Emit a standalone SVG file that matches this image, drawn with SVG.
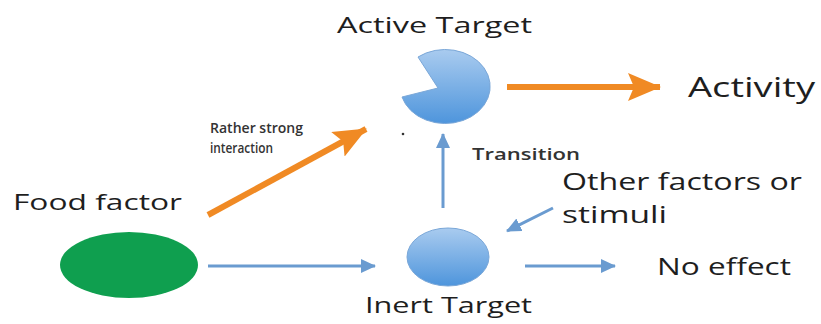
<svg xmlns="http://www.w3.org/2000/svg" width="821" height="324" viewBox="0 0 821 324">
  <style>
    .lbl { font-family: "Open Sans", "Liberation Sans", sans-serif; fill: #1e1e1e; }
    .small { font-weight: 600; fill: #333; }
    .blue { stroke: #6a9bd0; stroke-width: 3; fill: none; }
    .orange { stroke: #f08a24; stroke-width: 6; fill: none; }
  </style>
  <defs>
    <linearGradient id="targetFill" x1="0" y1="0" x2="0" y2="1">
      <stop offset="0" stop-color="#a9cbef"/>
      <stop offset="1" stop-color="#4e95dc"/>
    </linearGradient>
    <marker id="headBlue" markerUnits="userSpaceOnUse" markerWidth="16" markerHeight="14" refX="14" refY="7" orient="auto">
      <path d="M0,0 L15,7 L0,14 Z" fill="#6a9bd0"/>
    </marker>
    <marker id="headOrange" markerUnits="userSpaceOnUse" markerWidth="34" markerHeight="28" refX="32" refY="14" orient="auto">
      <path d="M0,0 L33,14 L0,28 L6,14 Z" fill="#f08a24"/>
    </marker>
  </defs>

  <rect width="821" height="324" fill="#ffffff"/>

  <!-- connectors -->
  <g id="connectors">
    <line class="orange" x1="208" y1="215" x2="366" y2="129" marker-end="url(#headOrange)"/>
    <line class="orange" x1="507" y1="87" x2="660" y2="87" marker-end="url(#headOrange)"/>
    <line class="blue" x1="208" y1="266" x2="375" y2="266" marker-end="url(#headBlue)"/>
    <line class="blue" x1="443" y1="208" x2="443" y2="134" marker-end="url(#headBlue)"/>
    <line class="blue" x1="553" y1="208" x2="507" y2="231" marker-end="url(#headBlue)"/>
    <line class="blue" x1="525" y1="266" x2="615" y2="266" marker-end="url(#headBlue)"/>
  </g>

  <!-- nodes -->
  <g id="active-target">
    <path d="M438,88 L418,57 A45,37 0 1 1 402,97 Z" fill="url(#targetFill)" stroke="#7aa7d8" stroke-width="1"/>
    <text class="lbl" x="337" y="33" font-size="21" textLength="195" lengthAdjust="spacingAndGlyphs">Active Target</text>
    <circle cx="403" cy="134" r="1.3" fill="#333"/>
  </g>

  <g id="activity">
    <text class="lbl" x="688" y="97" font-size="27" textLength="127" lengthAdjust="spacingAndGlyphs">Activity</text>
  </g>

  <g id="food-factor">
    <ellipse cx="129" cy="265" rx="69" ry="33" fill="#0f9f4f"/>
    <text class="lbl" x="13" y="210" font-size="21" textLength="169" lengthAdjust="spacingAndGlyphs">Food factor</text>
  </g>

  <g id="inert-target">
    <ellipse cx="448" cy="257" rx="41" ry="29" fill="url(#targetFill)" stroke="#7aa7d8" stroke-width="1"/>
    <text class="lbl" x="365" y="313" font-size="22" textLength="167" lengthAdjust="spacingAndGlyphs">Inert Target</text>
  </g>

  <g id="other-factors">
    <text class="lbl" x="562" y="190" font-size="24" textLength="240" lengthAdjust="spacingAndGlyphs">Other factors or</text>
    <text class="lbl" x="562" y="223" font-size="24" textLength="105" lengthAdjust="spacingAndGlyphs">stimuli</text>
  </g>

  <g id="no-effect">
    <text class="lbl" x="657" y="275" font-size="24" textLength="134" lengthAdjust="spacingAndGlyphs">No effect</text>
  </g>

  <g id="edge-labels">
    <text class="lbl small" x="210" y="133" font-size="15" textLength="93" lengthAdjust="spacingAndGlyphs">Rather strong</text>
    <text class="lbl small" x="210" y="153" font-size="15" textLength="63" lengthAdjust="spacingAndGlyphs">interaction</text>
    <text class="lbl small" x="472" y="160" font-size="17" textLength="108" lengthAdjust="spacingAndGlyphs">Transition</text>
  </g>
</svg>
